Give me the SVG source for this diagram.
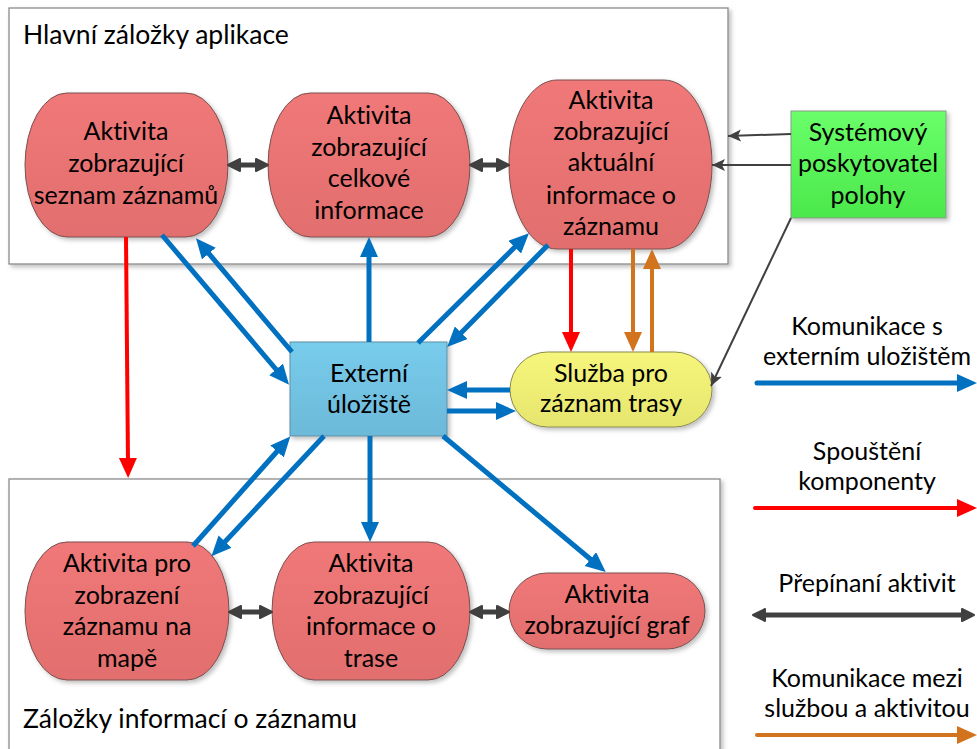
<svg xmlns="http://www.w3.org/2000/svg" width="977" height="749" viewBox="0 0 977 749">
<style>
text{font-family:Lato,"Liberation Sans",sans-serif;font-size:25px;fill:#000;font-variant-ligatures:none;font-feature-settings:"liga" 0}
.c{text-anchor:middle}
.ttl{font-size:26.5px}
.frame{fill:#fff;stroke:#8c8c8c;stroke-width:1.3}
.act{fill:url(#gRed);stroke:#7a5050;stroke-width:1}
.blue{stroke:#0070C0;stroke-width:5;fill:none}
.red{stroke:#FF0000;stroke-width:4;fill:none}
.orng{stroke:#D2731E;stroke-width:4;fill:none}
.dbl{stroke:#404040;stroke-width:5;fill:none}
.thin{stroke:#404040;stroke-width:2;fill:none}
</style>
<defs>
<linearGradient id="gRed" x1="0" y1="0" x2="0" y2="1"><stop offset="0" stop-color="#F07878"/><stop offset="1" stop-color="#E26E6E"/></linearGradient>
<linearGradient id="gBlue" x1="0" y1="0" x2="0" y2="1"><stop offset="0" stop-color="#78CCEC"/><stop offset="1" stop-color="#6CB9D9"/></linearGradient>
<linearGradient id="gGreen" x1="0" y1="0" x2="0" y2="1"><stop offset="0" stop-color="#6AFF6A"/><stop offset="1" stop-color="#4BE84B"/></linearGradient>
<linearGradient id="gYel" x1="0" y1="0" x2="0" y2="1"><stop offset="0" stop-color="#F6F67C"/><stop offset="1" stop-color="#E6E66E"/></linearGradient>
<filter id="sh" x="-10%" y="-10%" width="130%" height="130%"><feDropShadow dx="2.5" dy="2.5" stdDeviation="2" flood-color="#000" flood-opacity="0.25"/></filter>
<marker id="mBlue" markerUnits="userSpaceOnUse" markerWidth="22" markerHeight="20" refX="6" refY="9" orient="auto"><path d="M0,0 L20,9 L0,18 z" fill="#0070C0"/></marker>
<marker id="mRed" markerUnits="userSpaceOnUse" markerWidth="22" markerHeight="20" refX="6" refY="9" orient="auto"><path d="M0,0 L20,9 L0,18 z" fill="#FF0000"/></marker>
<marker id="mOrng" markerUnits="userSpaceOnUse" markerWidth="22" markerHeight="20" refX="6" refY="9" orient="auto"><path d="M0,0 L20,9 L0,18 z" fill="#D2731E"/></marker>
<marker id="mDbl" markerUnits="userSpaceOnUse" markerWidth="16" markerHeight="16" refX="3" refY="8" orient="auto-start-reverse"><path d="M1,2 L13,8 L1,14 z" fill="#404040" stroke="#404040" stroke-width="2" stroke-linejoin="round"/></marker>
<marker id="mThin" markerUnits="userSpaceOnUse" markerWidth="14" markerHeight="14" refX="13" refY="7" orient="auto"><path d="M0,1 L13,7 L0,13 L3,7 z" fill="#404040"/></marker>
</defs>

<g id="frame-top"><rect class="frame" x="9" y="8" width="719" height="256" filter="url(#sh)"/><text class="ttl" x="23" y="44">Hlavní záložky aplikace</text></g>
<g id="frame-bottom"><rect class="frame" x="9" y="479" width="711" height="290" filter="url(#sh)"/><text class="ttl" x="23" y="728">Záložky informací o záznamu</text></g>

<g id="n-seznam"><rect class="act" x="25" y="93" width="203" height="144" rx="42" ry="72" filter="url(#sh)"/>
<text class="c" x="126" y="140">Aktivita</text><text class="c" x="126" y="172">zobrazující</text><text class="c" x="126" y="204">seznam záznamů</text></g>
<g id="n-celkove"><rect class="act" x="268" y="93" width="202" height="144" rx="42" ry="72" filter="url(#sh)"/>
<text class="c" x="369" y="124">Aktivita</text><text class="c" x="369" y="156">zobrazující</text><text class="c" x="369" y="187">celkové</text><text class="c" x="369" y="219">informace</text></g>
<g id="n-aktualni"><rect class="act" x="509" y="80" width="203" height="169" rx="48" ry="84" filter="url(#sh)"/>
<text class="c" x="611" y="109">Aktivita</text><text class="c" x="611" y="140">zobrazující</text><text class="c" x="611" y="171">aktuální</text><text class="c" x="611" y="204">informace o</text><text class="c" x="611" y="235">záznamu</text></g>
<g id="n-gps"><rect x="791" y="111" width="155" height="107" fill="url(#gGreen)" stroke="#8a9a8a" stroke-width="1" filter="url(#sh)"/>
<text class="c" x="868" y="141">Systémový</text><text class="c" x="868" y="172">poskytovatel</text><text class="c" x="868" y="204">polohy</text></g>
<g id="n-uloziste"><rect x="290" y="342" width="157" height="94" fill="url(#gBlue)" stroke="#5f8ea4" stroke-width="1" filter="url(#sh)"/>
<text class="c" x="369" y="382">Externí</text><text class="c" x="369" y="413">úložiště</text></g>
<g id="n-sluzba"><rect x="510" y="352" width="202" height="75" rx="37.5" ry="37.5" fill="url(#gYel)" stroke="#8a8a50" stroke-width="1" filter="url(#sh)"/>
<text class="c" x="611" y="382">Služba pro</text><text class="c" x="611" y="412">záznam trasy</text></g>
<g id="n-mapa"><rect class="act" x="25" y="542" width="204" height="138" rx="42" ry="69" filter="url(#sh)"/>
<text class="c" x="127" y="572">Aktivita pro</text><text class="c" x="127" y="604">zobrazení</text><text class="c" x="127" y="635">záznamu na</text><text class="c" x="127" y="667">mapě</text></g>
<g id="n-trasa"><rect class="act" x="272" y="542" width="198" height="138" rx="42" ry="69" filter="url(#sh)"/>
<text class="c" x="371" y="572">Aktivita</text><text class="c" x="371" y="604">zobrazující</text><text class="c" x="371" y="635">informace o</text><text class="c" x="371" y="667">trase</text></g>
<g id="n-graf"><rect class="act" x="509" y="573" width="196" height="76" rx="38" ry="38" filter="url(#sh)"/>
<text class="c" x="607" y="603">Aktivita</text><text class="c" x="607" y="634">zobrazující graf</text></g>

<g id="connectors">
<line class="dbl" x1="238" y1="165" x2="258" y2="165" marker-start="url(#mDbl)" marker-end="url(#mDbl)"/>
<line class="dbl" x1="480" y1="165" x2="499" y2="165" marker-start="url(#mDbl)" marker-end="url(#mDbl)"/>
<line class="dbl" x1="239" y1="612" x2="262" y2="612" marker-start="url(#mDbl)" marker-end="url(#mDbl)"/>
<line class="dbl" x1="480" y1="612" x2="499" y2="612" marker-start="url(#mDbl)" marker-end="url(#mDbl)"/>

<line class="thin" x1="791" y1="134" x2="728" y2="136" marker-end="url(#mThin)"/>
<line class="thin" x1="791" y1="165" x2="712" y2="165" marker-end="url(#mThin)"/>
<line class="thin" x1="791" y1="218" x2="711" y2="386" marker-end="url(#mThin)"/>

<line class="red" x1="126" y1="237" x2="128" y2="464" marker-end="url(#mRed)"/>
<line class="red" x1="571" y1="249" x2="571" y2="338" marker-end="url(#mRed)"/>
<line class="orng" x1="633" y1="249" x2="633" y2="338" marker-end="url(#mOrng)"/>
<line class="orng" x1="652" y1="352" x2="652" y2="263" marker-end="url(#mOrng)"/>

<line class="blue" x1="162" y1="235" x2="280" y2="374" marker-end="url(#mBlue)"/>
<line class="blue" x1="292" y1="352" x2="205" y2="249" marker-end="url(#mBlue)"/>
<line class="blue" x1="369" y1="342" x2="369" y2="251" marker-end="url(#mBlue)"/>
<line class="blue" x1="418" y1="343" x2="519" y2="243" marker-end="url(#mBlue)"/>
<line class="blue" x1="548" y1="245" x2="457" y2="337" marker-end="url(#mBlue)"/>
<line class="blue" x1="510" y1="390" x2="461" y2="390" marker-end="url(#mBlue)"/>
<line class="blue" x1="447" y1="411" x2="502" y2="411" marker-end="url(#mBlue)"/>
<line class="blue" x1="193" y1="546" x2="281" y2="447" marker-end="url(#mBlue)"/>
<line class="blue" x1="324" y1="436" x2="221" y2="546" marker-end="url(#mBlue)"/>
<line class="blue" x1="370" y1="436" x2="370" y2="528" marker-end="url(#mBlue)"/>
<line class="blue" x1="443" y1="436" x2="595" y2="563" marker-end="url(#mBlue)"/>
</g>

<g id="legend">
<text class="c" x="867" y="335">Komunikace s</text><text class="c" x="867" y="365">externím uložištěm</text>
<line class="blue" x1="757" y1="383" x2="963" y2="383" stroke-linecap="round" marker-end="url(#mBlue)"/>
<text class="c" x="867" y="460">Spouštění</text><text class="c" x="867" y="490">komponenty</text>
<line class="red" x1="755" y1="508" x2="963" y2="508" stroke-linecap="round" marker-end="url(#mRed)"/>
<text class="c" x="867" y="592">Přepínaní aktivit</text>
<line class="dbl" x1="763" y1="615" x2="964" y2="615" marker-start="url(#mDbl)" marker-end="url(#mDbl)"/>
<text class="c" x="867" y="687">Komunikace mezi</text><text class="c" x="867" y="717">službou a aktivitou</text>
<line class="orng" x1="757" y1="735" x2="963" y2="735" stroke-linecap="round" marker-end="url(#mOrng)"/>
</g>
</svg>
